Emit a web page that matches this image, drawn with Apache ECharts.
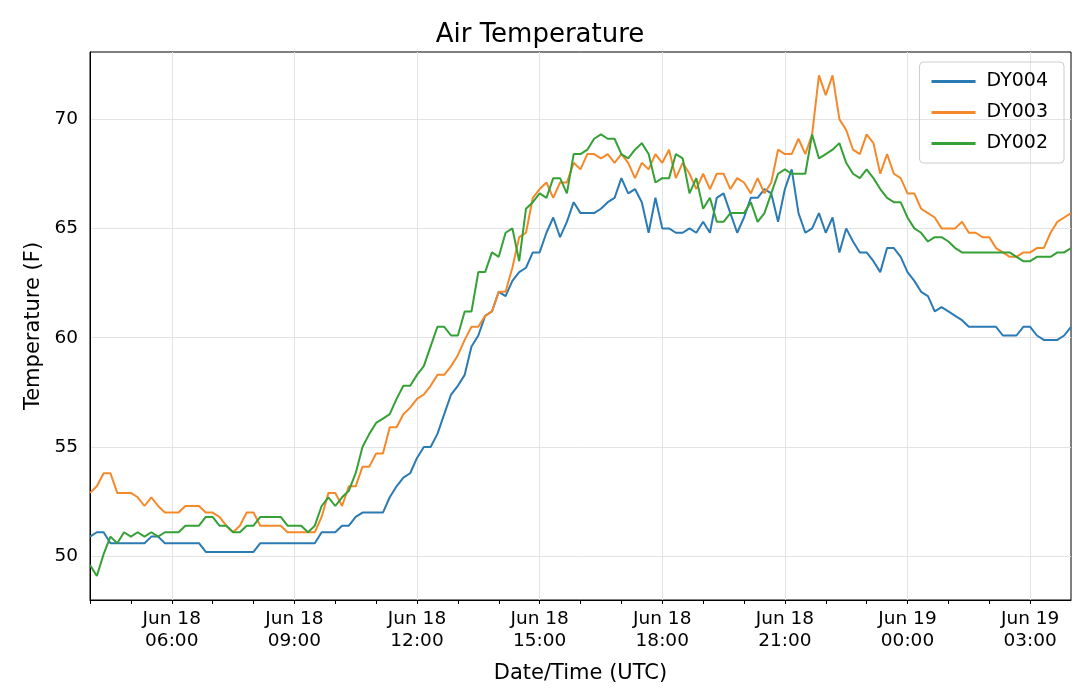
<!DOCTYPE html>
<html>
<head>
<meta charset="utf-8">
<script src="https://cdn.jsdelivr.net/npm/echarts@6/dist/echarts.min.js"></script>
<style>
  html, body { margin: 0; padding: 0; background: #fff; }
  #chart { width: 1080px; height: 695px; }
</style>
</head>
<body>
<div id="chart"></div>
<script>
// 10-minute readings, starting Jun 18 04:00 UTC
var startHour = 4;
var stepHours = 1 / 6;

var dy004 = [
    50.9, 51.1, 51.1, 50.6, 50.6, 50.6,
    50.6, 50.6, 50.6, 50.9, 50.9, 50.6,
    50.6, 50.6, 50.6, 50.6, 50.6, 50.2,
    50.2, 50.2, 50.2, 50.2, 50.2, 50.2,
    50.2, 50.6, 50.6, 50.6, 50.6, 50.6,
    50.6, 50.6, 50.6, 50.6, 51.1, 51.1,
    51.1, 51.4, 51.4, 51.8, 52.0, 52.0,
    52.0, 52.0, 52.7, 53.2, 53.6, 53.8,
    54.5, 55.0, 55.0, 55.6, 56.5, 57.4,
    57.8, 58.3, 59.6, 60.1, 61.0, 61.2,
    62.1, 61.9, 62.6, 63.0, 63.2, 63.9,
    63.9, 64.8, 65.5, 64.6, 65.3, 66.2,
    65.7, 65.7, 65.7, 65.9, 66.2, 66.4,
    67.3, 66.6, 66.8, 66.2, 64.8, 66.4,
    65.0, 65.0, 64.8, 64.8, 65.0, 64.8,
    65.3, 64.8, 66.4, 66.6, 65.7, 64.8,
    65.5, 66.4, 66.4, 66.8, 66.6, 65.3,
    66.8, 67.7, 65.7, 64.8, 65.0, 65.7,
    64.8, 65.5, 63.9, 65.0, 64.4, 63.9,
    63.9, 63.5, 63.0, 64.1, 64.1, 63.7,
    63.0, 62.6, 62.1, 61.9, 61.2, 61.4,
    61.2, 61.0, 60.8, 60.5, 60.5, 60.5,
    60.5, 60.5, 60.1, 60.1, 60.1, 60.5,
    60.5, 60.1, 59.9, 59.9, 59.9, 60.1,
    60.5
];
var dy003 = [
    52.9, 53.2, 53.8, 53.8, 52.9, 52.9,
    52.9, 52.7, 52.3, 52.7, 52.3, 52.0,
    52.0, 52.0, 52.3, 52.3, 52.3, 52.0,
    52.0, 51.8, 51.4, 51.1, 51.4, 52.0,
    52.0, 51.4, 51.4, 51.4, 51.4, 51.1,
    51.1, 51.1, 51.1, 51.1, 51.8, 52.9,
    52.9, 52.3, 53.2, 53.2, 54.1, 54.1,
    54.7, 54.7, 55.9, 55.9, 56.5, 56.8,
    57.2, 57.4, 57.8, 58.3, 58.3, 58.7,
    59.2, 59.9, 60.5, 60.5, 61.0, 61.2,
    62.1, 62.1, 63.2, 64.6, 64.8, 66.4,
    66.8, 67.1, 66.4, 67.1, 67.1, 68.0,
    67.7, 68.4, 68.4, 68.2, 68.4, 68.0,
    68.4, 68.0, 67.3, 68.0, 67.7, 68.4,
    68.0, 68.6, 67.3, 68.0, 67.5, 66.8,
    67.5, 66.8, 67.5, 67.5, 66.8, 67.3,
    67.1, 66.6, 67.3, 66.6, 67.1, 68.6,
    68.4, 68.4, 69.1, 68.4, 69.3, 72.0,
    71.1, 72.0, 70.0, 69.5, 68.6, 68.4,
    69.3, 68.9, 67.5, 68.4, 67.5, 67.3,
    66.6, 66.6, 65.9, 65.7, 65.5, 65.0,
    65.0, 65.0, 65.3, 64.8, 64.8, 64.6,
    64.6, 64.1, 63.9, 63.7, 63.7, 63.9,
    63.9, 64.1, 64.1, 64.8, 65.3, 65.5,
    65.7
];
var dy002 = [
    49.6, 49.1, 50.1, 50.9, 50.6, 51.1,
    50.9, 51.1, 50.9, 51.1, 50.9, 51.1,
    51.1, 51.1, 51.4, 51.4, 51.4, 51.8,
    51.8, 51.4, 51.4, 51.1, 51.1, 51.4,
    51.4, 51.8, 51.8, 51.8, 51.8, 51.4,
    51.4, 51.4, 51.1, 51.4, 52.3, 52.7,
    52.3, 52.7, 53.0, 53.8, 55.0, 55.6,
    56.1, 56.3, 56.5, 57.2, 57.8, 57.8,
    58.3, 58.7, 59.6, 60.5, 60.5, 60.1,
    60.1, 61.2, 61.2, 63.0, 63.0, 63.9,
    63.7, 64.8, 65.0, 63.5, 65.9, 66.2,
    66.6, 66.4, 67.3, 67.3, 66.6, 68.4,
    68.4, 68.6, 69.1, 69.3, 69.1, 69.1,
    68.4, 68.2, 68.6, 68.9, 68.4, 67.1,
    67.3, 67.3, 68.4, 68.2, 66.6, 67.3,
    65.9, 66.4, 65.3, 65.3, 65.7, 65.7,
    65.7, 66.2, 65.3, 65.7, 66.6, 67.5,
    67.7, 67.5, 67.5, 67.5, 69.3, 68.2,
    68.4, 68.6, 68.9, 68.0, 67.5, 67.3,
    67.7, 67.3, 66.8, 66.4, 66.2, 66.2,
    65.5, 65.0, 64.8, 64.4, 64.6, 64.6,
    64.4, 64.1, 63.9, 63.9, 63.9, 63.9,
    63.9, 63.9, 63.9, 63.9, 63.7, 63.5,
    63.5, 63.7, 63.7, 63.7, 63.9, 63.9,
    64.1
];

function pair(arr) {
    var out = [];
    for (var i = 0; i < arr.length; ++i) {
        out.push([startHour + i * stepHours, arr[i]]);
    }
    return out;
}

function pad(n) {
    return (n < 10 ? '0' : '') + n;
}

var font = 'DejaVu Sans';
var grey = '#e3e3e3';
var chart = echarts.init(document.getElementById('chart'));

var option = {
    animation: false,
    backgroundColor: '#fff',
    textStyle: { fontFamily: font },
    title: {
        text: 'Air Temperature',
        left: 'center',
        top: 17,
        textStyle: { fontFamily: font, fontSize: 26, fontWeight: 'normal', color: '#000' }
    },
    legend: {
        orient: 'vertical',
        right: 16,
        top: 62,
        itemWidth: 44,
        itemHeight: 3,
        itemGap: 12,
        padding: [10, 16, 10, 12],
        borderColor: '#ccc',
        borderWidth: 1,
        borderRadius: 4,
        icon: 'rect',
        textStyle: { fontFamily: font, fontSize: 19, color: '#000', padding: [0, 0, 0, 6] },
        data: ['DY004', 'DY003', 'DY002']
    },
    grid: {
        left: 90, right: 9, top: 52, bottom: 95,
        show: true, borderColor: '#000', borderWidth: 1
    },
    xAxis: {
        type: 'value',
        min: startHour,
        max: startHour + (dy004.length - 1) * stepHours,
        interval: 1,
        name: 'Date/Time (UTC)',
        nameLocation: 'middle',
        nameGap: 63,
        nameTextStyle: { fontFamily: font, fontSize: 21, color: '#000' },
        axisLine: { lineStyle: { color: '#000' } },
        axisTick: { length: 4, lineStyle: { color: '#000' } },
        axisLabel: {
            fontFamily: font, fontSize: 18.5, color: '#000', lineHeight: 22,
            showMinLabel: true, showMaxLabel: false,
            formatter: function (v) {
                var h = Math.round(v);
                if (h % 3 !== 0) return '';
                return 'Jun ' + (h < 24 ? 18 : 19) + '\n' + pad(h % 24) + ':00';
            }
        },
        splitLine: { show: true, lineStyle: { color: ['transparent', 'transparent', grey] } }
    },
    yAxis: {
        type: 'value',
        min: 48,
        max: 73.07,
        interval: 1,
        name: 'Temperature (F)',
        nameLocation: 'middle',
        nameGap: 46,
        nameTextStyle: { fontFamily: font, fontSize: 21, color: '#000' },
        axisLine: { show: true, lineStyle: { color: '#000' } },
        axisTick: { show: false },
        axisLabel: {
            fontFamily: font, fontSize: 18.5, color: '#000', margin: 12,
            showMaxLabel: false,
            formatter: function (v) {
                return Math.round(v) % 5 === 0 ? String(Math.round(v)) : '';
            }
        },
        splitLine: { show: true, lineStyle: { color: ['transparent', 'transparent', grey, 'transparent', 'transparent'] } }
    },
    series: [
        { name: 'DY004', type: 'line', showSymbol: false, data: pair(dy004), color: '#2a7ab3', lineStyle: { width: 2 } },
        { name: 'DY003', type: 'line', showSymbol: false, data: pair(dy003), color: '#f5892a', lineStyle: { width: 2 } },
        { name: 'DY002', type: 'line', showSymbol: false, data: pair(dy002), color: '#35a036', lineStyle: { width: 2 } }
    ]
};

chart.setOption(option);
</script>
</body>
</html>
